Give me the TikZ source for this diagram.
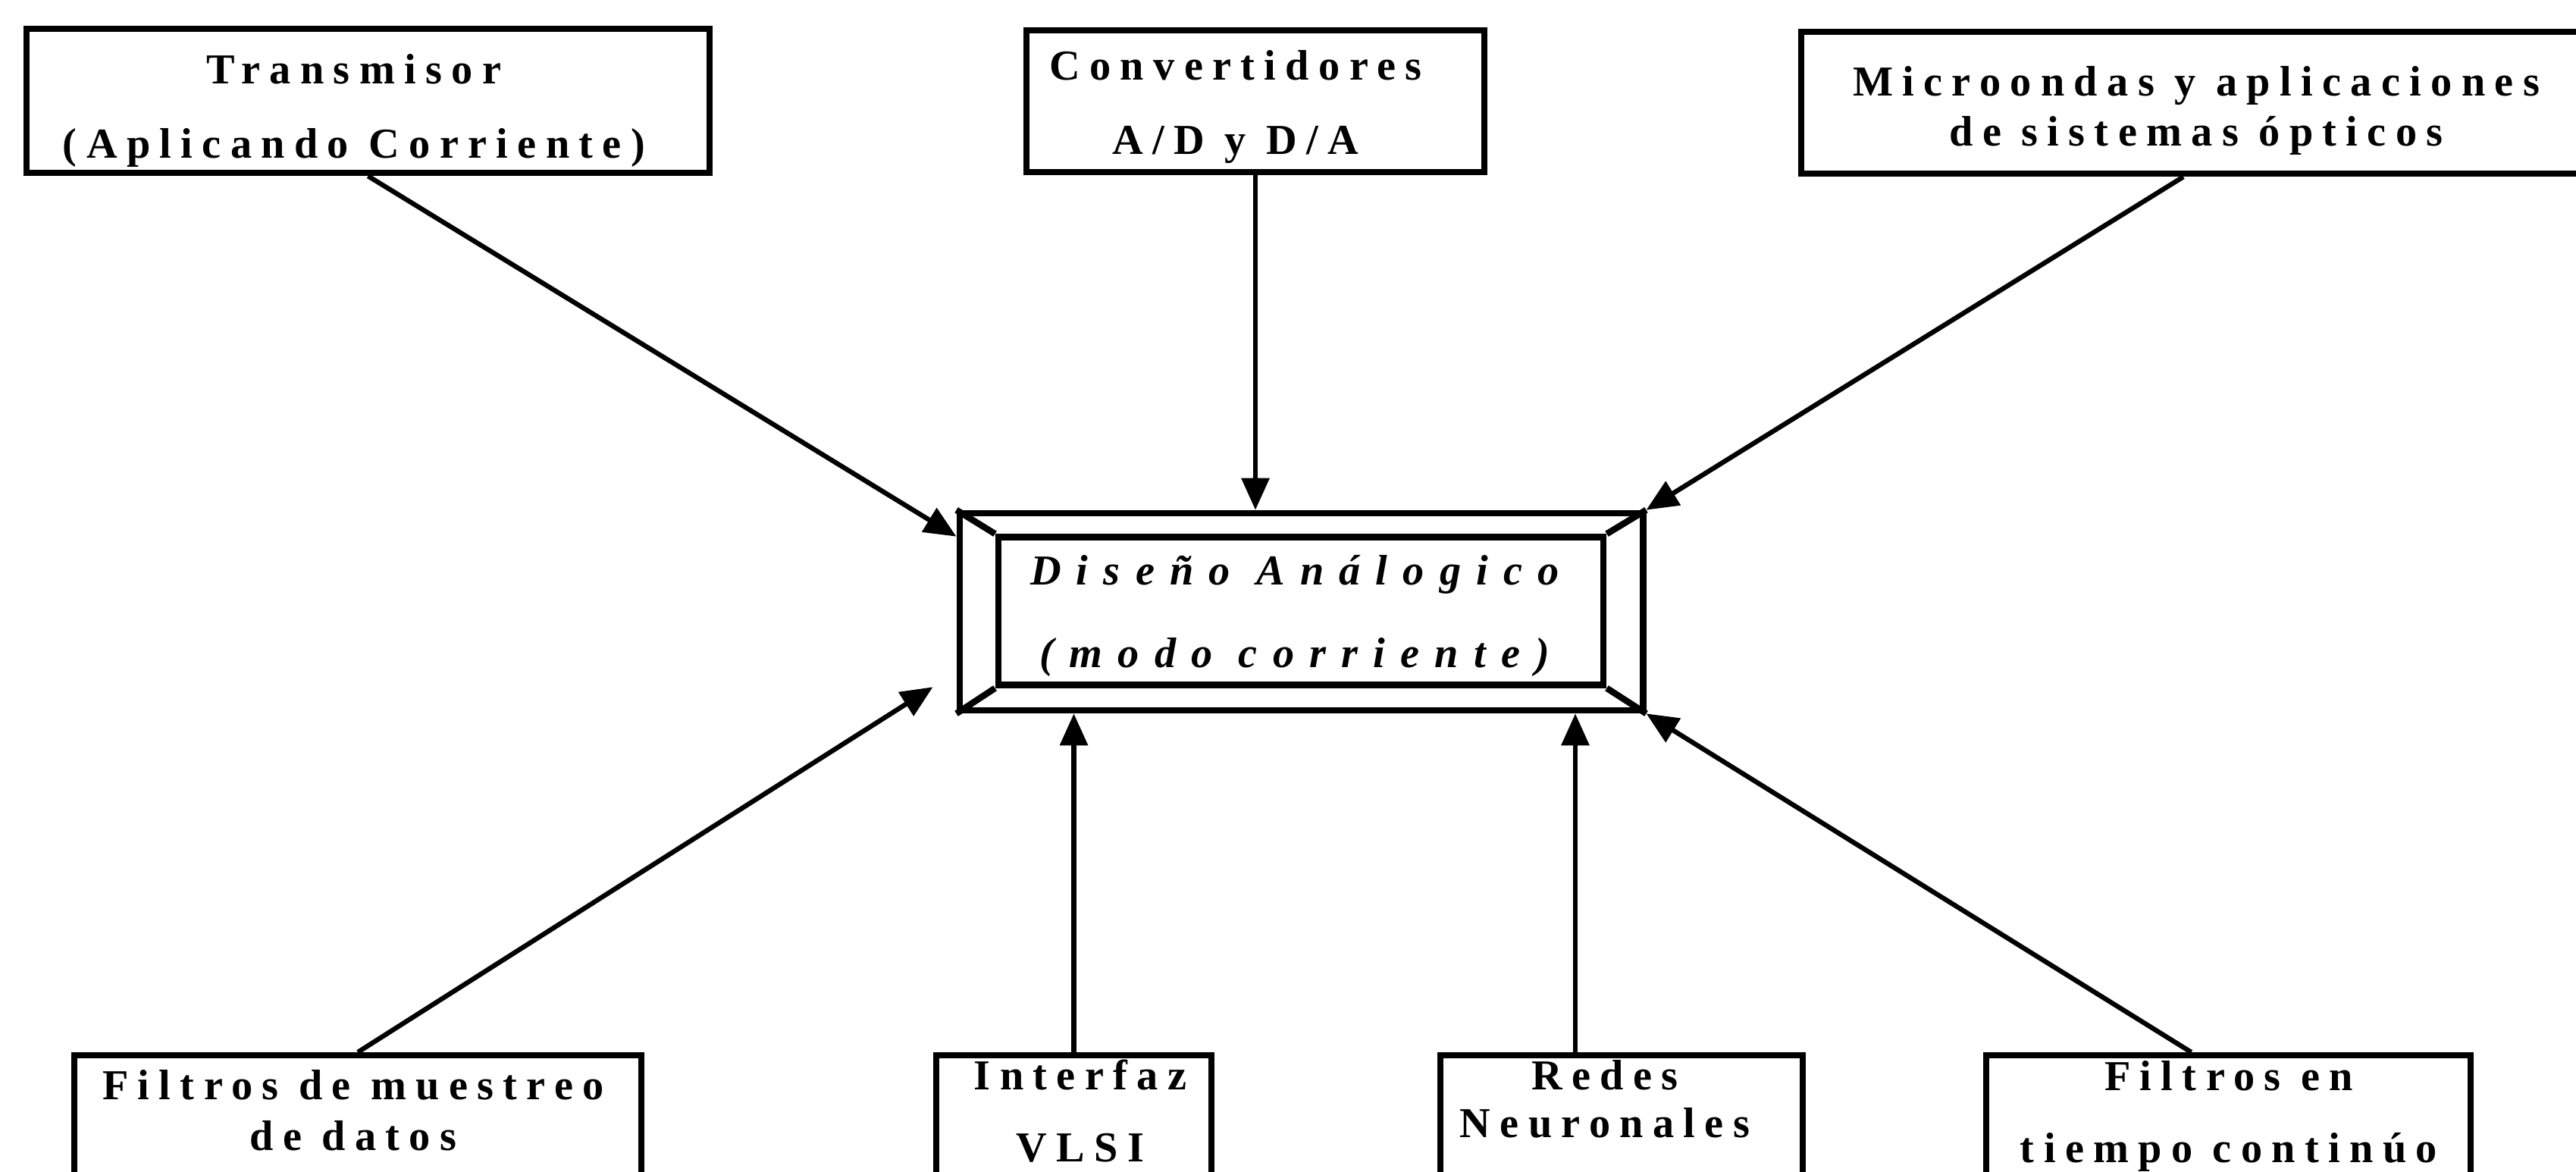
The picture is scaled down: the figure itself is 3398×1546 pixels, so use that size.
\documentclass[tikz,border=0pt]{standalone}
\usepackage{fontspec}
\setmainfont{Liberation Serif}
\newfontfamily\cajafont[LetterSpace=22]{Liberation Serif}
\newfontfamily\centrofont[LetterSpace=36]{Liberation Serif}
\usetikzlibrary{arrows.meta,positioning}
\tikzset{
  >={Triangle[length=0.42cm,width=0.36cm]},
  caja/.style={draw=black, line width=2.4pt, inner sep=0pt},
  texto/.style={font=\cajafont\bfseries\fontsize{16}{18}\selectfont,
    align=center, inner sep=0pt},
  textocentro/.style={font=\centrofont\bfseries\itshape\fontsize{16}{18}\selectfont,
    align=center, inner sep=0pt},
  flecha/.style={draw, line width=1.8pt, ->},
}

\begin{document}
\begin{tikzpicture}[x=0.01cm, y=-0.01cm]
    \useasboundingbox (0,0) rectangle (3398,1546);
    \clip (0,0) rectangle (3398,1546);

    %top boxes
    \node[caja, minimum width=9.01cm, minimum height=1.90cm] (trans) at (485.5,133) {};
    \node[texto] (trans-t) at (467,146) {Transmisor\\[10pt](Aplicando Corriente)};

    \node[caja, minimum width=6.04cm, minimum height=1.87cm] (conv) at (1656,133.5) {};
    \node[texto] (conv-t) at (1630,141) {Convertidores\\[10pt]A/D y D/A};

    \node[caja, minimum width=10.54cm, minimum height=1.87cm] (micro) at (2903,135.5) {};
    \node[texto] (micro-t) at (2897,146) {Microondas y aplicaciones\\[0.5pt]de sistemas ópticos};

    %central box
    \node[caja, minimum width=9.01cm, minimum height=2.60cm] (diseno) at (1716.5,807) {};
    \node[caja, minimum width=7.98cm, minimum height=1.95cm] (disenoin) at (1716,806) {};
    \draw[line width=2.4pt] (diseno.north west) -- (disenoin.north west);
    \draw[line width=2.4pt] (diseno.north east) -- (disenoin.north east);
    \draw[line width=2.4pt] (diseno.south west) -- (disenoin.south west);
    \draw[line width=2.4pt] (diseno.south east) -- (disenoin.south east);
    \node[textocentro] (diseno-t) at (1708,812) {Diseño Análogico\\[13pt](modo corriente)};

    %bottom boxes
    \node[caja, anchor=north, minimum width=7.48cm, minimum height=2.2cm] (muestreo) at (472,1388) {};
    \node[texto] (muestreo-t) at (466,1465) {Filtros de muestreo\\[1pt]de datos};

    \node[caja, anchor=north, minimum width=3.63cm, minimum height=2.2cm] (vlsi) at (1416.5,1388) {};
    \node[texto] (vlsi-t) at (1425,1466) {Interfaz\\[9pt]VLSI};

    \node[caja, anchor=north, minimum width=4.78cm, minimum height=2.2cm] (redes) at (2139,1388) {};
    \node[texto] (redes-t) at (2117,1450) {Redes\\Neuronales};

    \node[caja, anchor=north, minimum width=6.39cm, minimum height=2.2cm] (tiempo) at (2939.5,1388) {};
    \node[texto] (tiempo-t) at (2940,1472) {Filtros en\\[9pt]tiempo continúo};

    %connections
    \coordinate (trans-in) at ([yshift=-0.35cm]diseno.north west);
    \coordinate (micro-out) at ([xshift=-0.23cm]micro.south);
    \coordinate (muestreo-in) at ([xshift=-0.31cm,yshift=0.35cm]diseno.south west);
    \coordinate (redes-out) at ([xshift=-0.61cm]redes.north);
    \coordinate (tiempo-out) at ([xshift=-0.49cm]tiempo.north);

    \draw[flecha] (trans.south) -- (trans-in);
    \draw[flecha] (conv.south) -- (conv.south |- diseno.north);
    \draw[flecha] (micro-out) -- (diseno.north east);

    \draw[flecha] (muestreo.north) -- (muestreo-in);
    \draw[flecha] (vlsi.north) -- (vlsi.north |- diseno.south);
    \draw[flecha] (redes-out) -- (redes-out |- diseno.south);
    \draw[flecha] (tiempo-out) -- (diseno.south east);
\end{tikzpicture}
\end{document}
